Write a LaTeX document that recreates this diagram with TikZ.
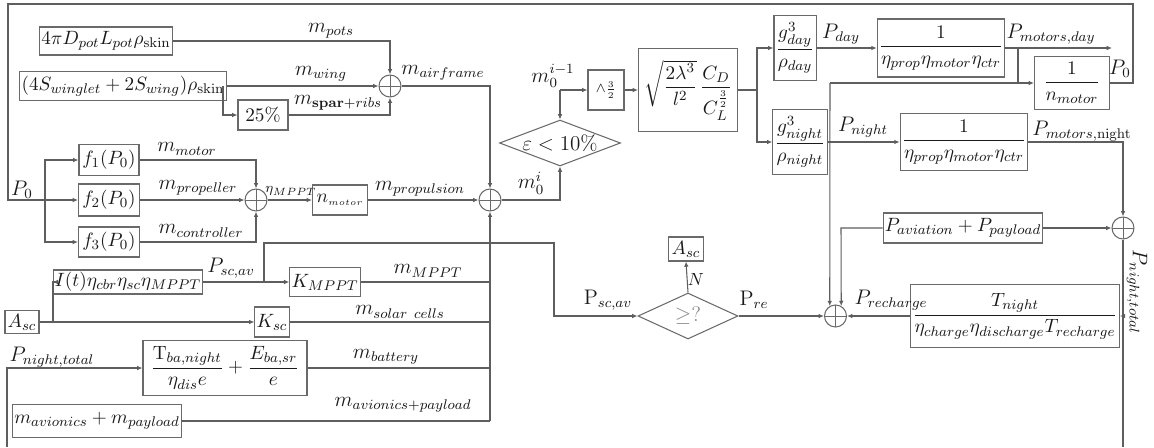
\documentclass[tikz,border=0pt]{standalone}
\usepackage{tikz}
\usepackage{xcolor}
\usepackage{amsmath}
\usetikzlibrary{calc,positioning,shapes.geometric,arrows.meta}
\definecolor{BDLine}{HTML}{5E5E5E}
\definecolor{BDBorder}{HTML}{6A6A6A}
\definecolor{BDInk}{HTML}{1A1A1A}
\definecolor{BDGrey}{HTML}{8A8A8A}
\tikzset{
  bdBase/.style={
    font=\fontsize{12pt}{14pt}\selectfont,
    text=BDInk,
    text centered,
    inner sep=1pt,
    line width=0.6pt
  },
  bdBlock/.style={
    bdBase,
    font=\fontsize{11pt}{13pt}\selectfont,
    draw=BDBorder,
    fill=white
  },
  bdSum/.style={
    circle,
    draw=BDBorder,
    line width=0.6pt,
    minimum size=0.44cm,
    inner sep=0pt,
    path picture={
      \draw[BDBorder, line width=0.5pt]
        (path picture bounding box.north) -- (path picture bounding box.south)
        (path picture bounding box.west) -- (path picture bounding box.east);
    }
  },
  bdDecision/.style={
    diamond,
    aspect=2.6,
    bdBase,
    draw=BDBorder,
    inner sep=0pt
  },
  bdLabel/.style={
    bdBase,
    inner sep=1pt
  },
  bdLine/.style={
    line width=0.6pt,
    color=BDLine
  },
  bdArrow/.style={
    bdLine,
    -{Latex[length=3pt,width=2.6pt]}
  }
}

\begin{document}
\begin{tikzpicture}[x=0.02cm, y=-0.02cm]
  \useasboundingbox (0,0) rectangle (1154,447);

  % airframe
  \node (pots) [bdBlock, minimum width=2.66cm, minimum height=0.56cm] at (106,41) {$4\pi D_{pot}L_{pot}\rho_{\mathrm{skin}}$};
  \node (wing) [bdBlock, minimum width=3.6cm, minimum height=0.58cm] at (123,86) {$(4S_{winglet}+2S_{wing})\rho_{\mathrm{skin}}$};
  \node (spar) [bdBlock, minimum width=1.0cm, minimum height=0.6cm] at (263,115) {$25\%$};
  \node (sumAir) [bdSum] at (390,86) {};

  % propulsion
  \node (f1) [bdBlock, minimum width=1.2cm, minimum height=0.62cm] at (109,160) {$f_1(P_0)$};
  \node (f2) [bdBlock, minimum width=1.22cm, minimum height=0.64cm] at (109,200) {$f_2(P_0)$};
  \node (f3) [bdBlock, minimum width=1.22cm, minimum height=0.6cm] at (109,242) {$f_3(P_0)$};
  \node (sumProp) [bdSum] at (256,200) {};
  \node (nmot) [bdBlock, minimum width=1.1cm, minimum height=0.6cm] at (340,200) {$n_{\scriptscriptstyle motor}$};
  \node (sumMass) [bdSum] at (490,200) {};

  % iteration
  \node (epsDec) [bdDecision, minimum width=2.42cm, minimum height=0.9cm] at (560,143) {$\varepsilon<10\%$};
  \node (powBox) [bdBlock, minimum width=0.72cm, minimum height=0.8cm] at (606,90) {$\scriptstyle\wedge\frac{3}{2}$};
  \node (sqrtBox) [bdBlock, minimum width=1.98cm, minimum height=1.66cm] at (688,90) {$\sqrt{\dfrac{2\lambda^{3}}{l^{2}}}\,\dfrac{C_D}{C_L^{\frac{3}{2}}}$};
  \node (gDay) [bdBlock, minimum width=0.78cm, minimum height=1.3cm] at (795,48) {$\dfrac{g_{day}^{3}}{\rho_{day}}$};
  \node (gNight) [bdBlock, minimum width=1.0cm, minimum height=1.3cm] at (800,142) {$\dfrac{g_{night}^{3}}{\rho_{night}}$};
  \node (etaDay) [bdBlock, minimum width=2.38cm, minimum height=1.16cm] at (941,48) {$\dfrac{1}{\eta_{prop}\eta_{motor}\eta_{ctr}}$};
  \node (etaNight) [bdBlock, minimum width=2.36cm, minimum height=1.14cm] at (964,142) {$\dfrac{1}{\eta_{prop}\eta_{motor}\eta_{ctr}}$};
  \node (nminv) [bdBlock, minimum width=1.5cm, minimum height=1.06cm] at (1072,83) {$\dfrac{1}{n_{motor}}$};

  % energy
  \node (avBox) [bdBlock, minimum width=2.52cm, minimum height=0.6cm] at (963,228) {$P_{aviation}+P_{payload}$};
  \node (sumRight) [bdSum] at (1123,228) {};
  \node (sumRech) [bdSum] at (835.5,316) {};
  \node (rechBox) [bdBlock, minimum width=3.3cm, minimum height=1.26cm] at (1015,316) {$\dfrac{T_{night}}{\eta_{charge}\eta_{discharge}T_{recharge}}$};
  \node (geDec) [bdDecision, minimum width=2.0cm, minimum height=0.92cm, text=BDGrey] at (688,316) {$\geq ?$};
  \node (ascTop) [bdBlock, minimum width=0.7cm, minimum height=0.48cm] at (686,249) {$A_{sc}$};

  % solar and battery
  \node (itBox) [bdBlock, minimum width=2.38cm, minimum height=0.48cm] at (128,282) {$I(t)\eta_{cbr}\eta_{sc}\eta_{MPPT}$};
  \node (kMppt) [bdBlock, minimum width=1.2cm, minimum height=0.58cm] at (325,282) {$K_{MPPT}$};
  \node (ascLeft) [bdBlock, minimum width=0.68cm, minimum height=0.46cm] at (22,322) {$A_{sc}$};
  \node (kSc) [bdBlock, minimum width=0.64cm, minimum height=0.6cm] at (272,322) {$K_{sc}$};
  \node (battery) [bdBlock, minimum width=3.28cm, minimum height=1.1cm] at (225,368) {$\dfrac{\mathrm{T}_{ba,night}}{\eta_{dis}e}+\dfrac{E_{ba,sr}}{e}$};
  \node (avion) [bdBlock, minimum width=3.2cm, minimum height=0.66cm] at (97,421) {$m_{avionics}+m_{payload}$};

  % free ends
  \coordinate (loopNE) at (1133,4);
  \coordinate (loopNW) at (8,4);
  \coordinate (loopSW) at (8,200);
  \coordinate (fSplit) at (45,200);
  \coordinate (wingSplit) at (223,86);
  \coordinate (mPrev) at (560,90);
  \coordinate (gSplit) at (757,90);
  \coordinate (pDayEnd) at (1112,48);
  \coordinate (dayTap) at (1018,48);
  \coordinate (dayDrop) at (1018,83);
  \coordinate (rechDrop) at (830,83);
  \coordinate (avCorner) at (841,228);
  \coordinate (rechTap) at (1123,316);
  \coordinate (rightBottom) at (1123,447);
  \coordinate (scTap) at (264,282);
  \coordinate (scUp) at (264,243);
  \coordinate (scOver) at (554,243);
  \coordinate (ascSplit) at (53,322);
  \coordinate (busEnd) at (490,421);
  \coordinate (leftBottom) at (7,447);

  % labels
  \node (lPots) [bdLabel] at (331,31) {$m_{pots}$};
  \node (lWing) [bdLabel] at (321,74) {$m_{wing}$};
  \node (lSpar) [bdLabel] at (338,103) {$m_{\mathbf{spar}+ribs}$};
  \node (lAir) [bdLabel] at (443,73) {$m_{airframe}$};
  \node (lP0left) [bdLabel] at (22,190) {$P_0$};
  \node (lMotor) [bdLabel] at (187,149) {$m_{motor}$};
  \node (lProp) [bdLabel] at (198,188) {$m_{propeller}$};
  \node (lCtrl) [bdLabel] at (201,231) {$m_{controller}$};
  \node (lEtaMppt) [bdLabel, font=\fontsize{8pt}{9pt}\selectfont] at (291,191) {$\eta_{MPPT}$};
  \node (lPropul) [bdLabel] at (420,189) {$m_{propulsion}$};
  \node (lPrev) [bdLabel] at (553,76) {$m_0^{i-1}$};
  \node (lCur) [bdLabel] at (531,183) {$m_0^{i}$};
  \node (lPday) [bdLabel] at (841,34) {$P_{day}$};
  \node (lPmDay) [bdLabel] at (1051,34) {$P_{motors,day}$};
  \node (lP0right) [bdLabel] at (1120,69) {$P_0$};
  \node (lPnight) [bdLabel] at (863,127) {$P_{night}$};
  \node (lPmNight) [bdLabel] at (1082,131) {$P_{motors,\mathrm{night}}$};
  \node (lRech) [bdLabel] at (891,300) {$P_{recharge}$};
  \node (lNightR) [bdLabel, rotate=-90] at (1137,292) {$P_{night,total}$};
  \node (lScMid) [bdLabel] at (608,300) {$\mathrm{P}_{sc,av}$};
  \node (lRe) [bdLabel] at (754,300) {$\mathrm{P}_{re}$};
  \node (lNo) [bdLabel, font=\fontsize{10pt}{12pt}\selectfont] at (696,279) {$N$};
  \node (lScLeft) [bdLabel] at (231,268) {$P_{sc,av}$};
  \node (lMppt) [bdLabel] at (428,271) {$m_{MPPT}$};
  \node (lSolar) [bdLabel] at (400,312) {$m_{solar\ cells}$};
  \node (lNightL) [bdLabel] at (52,357) {$P_{night,total}$};
  \node (lBatt) [bdLabel] at (386,357) {$m_{battery}$};
  \node (lAvio) [bdLabel] at (403,405) {$m_{avionics+payload}$};

  % feedback of P0
  \draw [bdLine] (nminv.east) -| (loopNE) -- (loopNW) -- (loopSW) -- (fSplit);
  \draw [bdArrow] (fSplit) |- (f1.west);
  \draw [bdArrow] (fSplit) -- (f2.west);
  \draw [bdArrow] (fSplit) |- (f3.west);

  % airframe mass
  \draw [bdArrow] (pots.east) -| (sumAir.north);
  \draw [bdArrow] (wing.east) -- (sumAir.west);
  \draw [bdArrow] (wingSplit) |- (spar.west);
  \draw [bdArrow] (spar.east) -| (sumAir.south);
  \draw [bdArrow] (sumAir.east) -| (sumMass.north);

  % propulsion mass
  \draw [bdArrow] (f1.east) -| (sumProp.north);
  \draw [bdArrow] (f2.east) -- (sumProp.west);
  \draw [bdArrow] (f3.east) -| (sumProp.south);
  \draw [bdArrow] (sumProp.east) -- (nmot.west);
  \draw [bdArrow] (nmot.east) -- (sumMass.west);

  % iteration and power
  \draw [bdArrow] (sumMass.east) -| (epsDec.south);
  \draw [bdArrow] (mPrev) -- (epsDec.north);
  \draw [bdArrow] (mPrev) -- (powBox.west);
  \draw [bdArrow] (powBox.east) -- (sqrtBox.west);
  \draw [bdLine] (sqrtBox.east) -- (gSplit);
  \draw [bdArrow] (gSplit) |- (gDay.west);
  \draw [bdArrow] (gSplit) |- (gNight.west);
  \draw [bdArrow] (gDay.east) -- (etaDay.west);
  \draw [bdArrow] (gNight.east) -- (etaNight.west);
  \draw [bdArrow] (etaDay.east) -- (pDayEnd);
  \draw [bdLine] (dayTap) -- (dayDrop) -- (rechDrop);
  \draw [bdArrow] (dayDrop) -- (nminv.west);
  \draw [bdArrow] (rechDrop) -- (sumRech.120);
  \draw [bdArrow] (etaNight.east) -| (sumRight.north);

  % night energy and recharge
  \draw [bdArrow] (avBox.east) -- (sumRight.west);
  \draw [bdArrow] (avBox.west) -- (avCorner) -- (sumRech.60);
  \draw [bdLine] (sumRight.south) -- (rightBottom);
  \draw [bdArrow] (rechTap) -- (rechBox.east);
  \draw [bdArrow] (rechBox.west) -- (sumRech.east);
  \draw [bdArrow] (geDec.east) -- (sumRech.west);
  \draw [bdArrow] (geDec.north) -- (ascTop.south);

  % solar, battery, avionics
  \draw [bdArrow] (itBox.east) -- (kMppt.west);
  \draw [bdArrow] (scTap) -- (scUp) -- (scOver) |- (geDec.west);
  \draw [bdArrow] (ascLeft.east) -- (kSc.west);
  \draw [bdArrow] (ascSplit) |- (itBox.west);
  \draw [bdArrow] (leftBottom) |- (battery.west);
  \draw [bdLine] (kMppt.east) -- (kMppt.east -| busEnd);
  \draw [bdLine] (kSc.east) -- (kSc.east -| busEnd);
  \draw [bdLine] (battery.east) -- (battery.east -| busEnd);
  \draw [bdLine] (avion.east) -- (busEnd);
  \draw [bdArrow] (busEnd) -- (sumMass.south);
\end{tikzpicture}
\end{document}
